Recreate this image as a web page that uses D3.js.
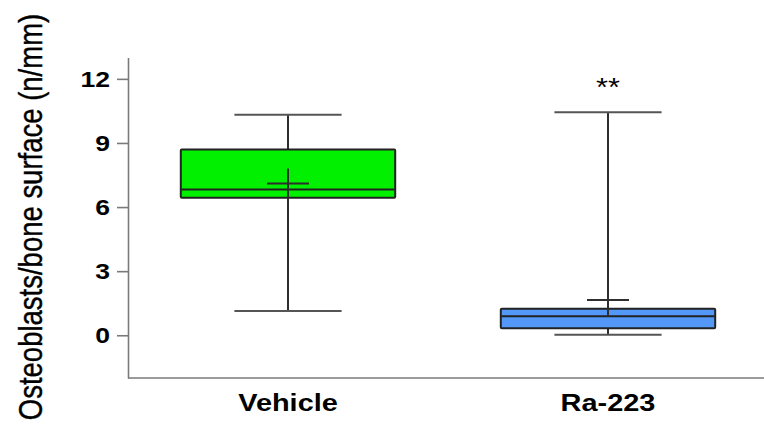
<!DOCTYPE html>
<html>
<head>
<meta charset="utf-8">
<script src="https://cdn.jsdelivr.net/npm/d3@7"></script>
<style>
  html, body { margin: 0; padding: 0; background: #fff; }
  svg { display: block; }
  text { font-family: "Liberation Sans", Arial, Helvetica, sans-serif; fill: #000; }
</style>
</head>
<body>
<svg id="chart" width="764" height="426"></svg>
<script>
// Groups and their box-plot summaries (osteoblasts per mm of bone surface)
const groups   = ["Vehicle", "Ra-223"];
const whiskLo  = [1.13, 0.03];
const q1       = [6.44, 0.33];
const median   = [6.82, 0.89];
const q3       = [8.70, 1.24];
const whiskHi  = [10.32, 10.44];
const means    = [7.10, 1.65];
const meanErr  = [0.70, 0.76];
const fills    = ["#00f000", "#5398f6"];
const sigMarks = ["", "**"];
const yTicks   = [0, 3, 6, 9, 12];
const yTitle   = "Osteoblasts/bone surface (n/mm)";

const svg = d3.select("#chart");
const stretch = 1.18;   // horizontally widened lettering

const x = d3.scaleBand().domain(groups).range([128, 768]).padding(0);
const y = d3.scaleLinear().domain([-2, 13]).range([378, 57.5]);

const boxW = x.bandwidth() * 0.67;
const capW = boxW / 2;
const crossW = 42;

// Y axis
const yAxis = svg.append("g")
  .attr("transform", `translate(${x.range()[0]},0)`)
  .call(d3.axisLeft(y).tickValues(yTicks).tickSize(11).tickPadding(6).tickSizeOuter(0));
yAxis.select(".domain").attr("stroke", "#7a7a7a").attr("stroke-width", 1.6);
yAxis.selectAll(".tick line").attr("stroke", "#7a7a7a").attr("stroke-width", 1.6);
yAxis.selectAll(".tick text")
  .attr("x", -18 / stretch)
  .attr("transform", `scale(${stretch},1)`)
  .attr("font-size", 22.5)
  .attr("font-weight", "bold")
  .attr("font-family", "Liberation Sans, Arial, sans-serif")
  .attr("fill", "#000");

// X axis line
svg.append("line")
  .attr("x1", x.range()[0]).attr("x2", 764)
  .attr("y1", y(-2)).attr("y2", y(-2))
  .attr("stroke", "#7a7a7a").attr("stroke-width", 1.6);

// Category labels
groups.forEach((g, i) => {
  svg.append("g")
    .attr("transform", `translate(${x(g) + x.bandwidth() / 2},410.5) scale(${stretch},1)`)
    .append("text")
    .attr("text-anchor", "middle")
    .attr("font-size", 24.5)
    .attr("font-weight", "bold")
    .text(g);
});

// Y title (glyphs widened across the axis direction)
svg.append("text")
  .attr("transform", `translate(42,217) scale(${stretch},1) rotate(-90)`)
  .attr("text-anchor", "middle")
  .attr("font-size", 27.5)
  .attr("stroke", "#000")
  .attr("stroke-width", 0.35)
  .text(yTitle);

// Boxes
groups.forEach((g, i) => {
  const cx = x(g) + x.bandwidth() / 2;
  const gg = svg.append("g");
  const lineCol = "#2f2f2f";

  // whiskers
  gg.append("line").attr("x1", cx).attr("x2", cx)
    .attr("y1", y(whiskHi[i])).attr("y2", y(q3[i]))
    .attr("stroke", lineCol).attr("stroke-width", 2);
  gg.append("line").attr("x1", cx).attr("x2", cx)
    .attr("y1", y(q1[i])).attr("y2", y(whiskLo[i]))
    .attr("stroke", lineCol).attr("stroke-width", 2);
  [whiskHi[i], whiskLo[i]].forEach(v => {
    gg.append("line").attr("x1", cx - capW / 2).attr("x2", cx + capW / 2)
      .attr("y1", y(v)).attr("y2", y(v))
      .attr("stroke", "#555").attr("stroke-width", 2);
  });

  // box
  gg.append("rect")
    .attr("x", cx - boxW / 2).attr("width", boxW)
    .attr("y", y(q3[i])).attr("height", y(q1[i]) - y(q3[i]))
    .attr("fill", fills[i]).attr("stroke", "#222").attr("stroke-width", 2)
    .attr("rx", 1);
  gg.append("line")
    .attr("x1", cx - boxW / 2).attr("x2", cx + boxW / 2)
    .attr("y1", y(median[i])).attr("y2", y(median[i]))
    .attr("stroke", "#222").attr("stroke-width", 2);

  // mean with error bar
  gg.append("line").attr("x1", cx).attr("x2", cx)
    .attr("y1", y(means[i] + meanErr[i])).attr("y2", y(means[i] - meanErr[i]))
    .attr("stroke", lineCol).attr("stroke-width", 2);
  gg.append("line").attr("x1", cx - crossW / 2).attr("x2", cx + crossW / 2)
    .attr("y1", y(means[i])).attr("y2", y(means[i]))
    .attr("stroke", lineCol).attr("stroke-width", 2);

  // significance marker
  if (sigMarks[i]) {
    svg.append("g")
      .attr("transform", `translate(${cx},${y(whiskHi[i]) - 16}) scale(${stretch},1)`)
      .append("text")
      .attr("text-anchor", "middle")
      .attr("font-size", 26)
      .text(sigMarks[i]);
  }
});
</script>
</body>
</html>
